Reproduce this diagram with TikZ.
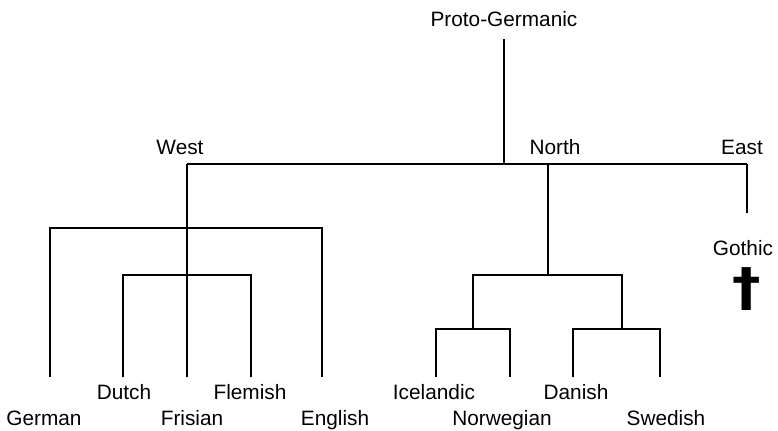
\documentclass[tikz,border=0pt]{standalone}
\usepackage{fontspec}
\setmainfont{Liberation Sans}
\newfontfamily\symfont{DejaVu Sans}
\usepackage{tikz}
\usetikzlibrary{positioning, calc}

\begin{document}
\begin{tikzpicture}[
    x=0.5pt, y=-0.5pt,
    lang/.style={
        font=\fontsize{10.4}{12}\selectfont,
        anchor=base, inner sep=0pt
    },
    branch/.style={line width=0.75pt, black},
    extinct/.style={
        font=\symfont\bfseries\fontsize{26}{26}\selectfont,
        anchor=base, inner sep=0pt, xscale=1.1
    },
]
\useasboundingbox (0,0) rectangle (778,430);

% ── Root and branch labels ────────────
\node[lang] (proto) at (504,26) {Proto-Germanic};
\node[lang] (westlbl) at (180,154) {West};
\node[lang] (northlbl) at (555,154) {North};
\node[lang] (eastlbl) at (742,154) {East};

% ── Languages ─────────────────────────
\node[lang] (german) at (44,425) {German};
\node[lang] (dutch) at (124,399) {Dutch};
\node[lang] (frisian) at (192,425) {Frisian};
\node[lang] (flemish) at (250,399) {Flemish};
\node[lang] (english) at (335,425) {English};
\node[lang] (icelandic) at (434,399) {Icelandic};
\node[lang] (norwegian) at (502,425) {Norwegian};
\node[lang] (danish) at (576,399) {Danish};
\node[lang] (swedish) at (666,425) {Swedish};
\node[lang] (gothic) at (743,255) {Gothic};
\node[extinct] (dagger) at (747,305) {†};

% ── Junctions ─────────────────────────
\coordinate (pg) at (504,39);
\coordinate (top) at (504,164);
\coordinate (west) at (187,164);
\coordinate (north) at (548,164);
\coordinate (east) at (747,164);
\coordinate (eastend) at (747,213);
\coordinate (ing) at (187,228);
\coordinate (ist) at (187,275);
\coordinate (nj) at (548,275);
\coordinate (isno) at (473,329);
\coordinate (dasv) at (622,329);

% ── Leaf ends ─────────────────────────
\coordinate (de) at (50,377);
\coordinate (nl) at (123,377);
\coordinate (fy) at (187,377);
\coordinate (vls) at (251,377);
\coordinate (en) at (322,377);
\coordinate (is) at (436,377);
\coordinate (no) at (510,377);
\coordinate (da) at (573,377);
\coordinate (sv) at (660,377);

% ── Main split ────────────────────────
\draw[branch] (pg) -- (top);
\draw[branch] (west) -- (east);
\draw[branch] (east) -- (eastend);

% ── West ──────────────────────────────
\draw[branch] (west) -- (fy);
\draw[branch] (de) |- (ing) -| (en);
\draw[branch] (nl) |- (ist) -| (vls);

% ── North ─────────────────────────────
\draw[branch] (north) -- (nj);
\draw[branch] (isno) |- (nj) -| (dasv);
\draw[branch] (is) |- (isno) -| (no);
\draw[branch] (da) |- (dasv) -| (sv);

\end{tikzpicture}
\end{document}
